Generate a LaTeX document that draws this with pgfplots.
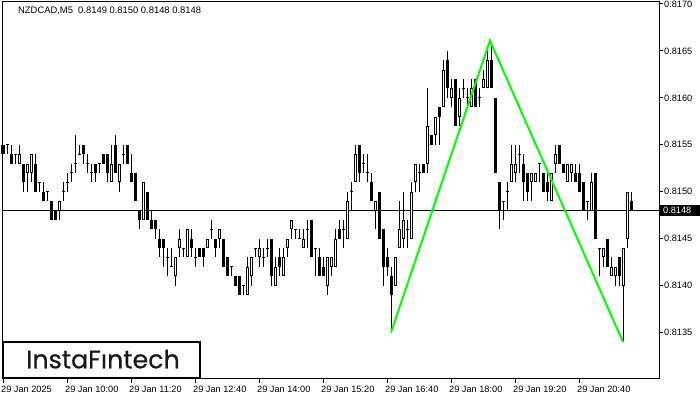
\documentclass[border=0pt]{standalone}
\usepackage{fontspec}
\setmainfont{Liberation Sans}
\newfontfamily\logofont[FakeBold=0.5]{Poppins}
\usepackage{pgfplots}
\usepackage{pgfplotstable}
\pgfplotsset{compat=1.18}
\definecolor{patgreen}{RGB}{0,255,0}

\pgfplotstableread{
i o h l c
0 0.8155 0.8155 0.8154 0.8154
1 0.8155 0.8155 0.8154 0.8155
2 0.8154 0.8155 0.8153 0.8153
3 0.8154 0.8154 0.8153 0.8154
4 0.8153 0.8155 0.8153 0.8154
5 0.8153 0.8153 0.8150 0.8151
6 0.8152 0.8153 0.8150 0.8153
7 0.8152 0.8154 0.8151 0.8154
8 0.8153 0.8154 0.8150 0.8150
9 0.8151 0.8151 0.8150 0.8151
10 0.8150 0.8151 0.8149 0.8149
11 0.8150 0.8150 0.8149 0.8150
12 0.8149 0.8149 0.8147 0.8147
13 0.8148 0.8148 0.8147 0.8147
14 0.8148 0.8149 0.8147 0.8149
15 0.8150 0.8151 0.8149 0.8150
16 0.8151 0.8152 0.8150 0.8151
17 0.8152 0.8153 0.8151 0.8152
18 0.8153 0.8156 0.8152 0.8153
19 0.8154 0.8155 0.8154 0.8154
20 0.8155 0.8155 0.8153 0.8154
21 0.8153 0.8154 0.8152 0.8153
22 0.8152 0.8153 0.8151 0.8152
23 0.8153 0.8153 0.8151 0.8152
24 0.8153 0.8153 0.8152 0.8153
25 0.8154 0.8154 0.8153 0.8153
26 0.8154 0.8154 0.8151 0.8152
27 0.8151 0.8155 0.8151 0.8153
28 0.8155 0.8156 0.8152 0.8152
29 0.8151 0.8153 0.8150 0.8153
30 0.8154 0.8155 0.8153 0.8154
31 0.8155 0.8155 0.8153 0.8153
32 0.8152 0.8154 0.8151 0.8151
33 0.8152 0.8152 0.8149 0.8149
34 0.8148 0.8148 0.8146 0.8147
35 0.8147 0.8151 0.8147 0.8151
36 0.8150 0.8150 0.8147 0.8147
37 0.8147 0.8148 0.8146 0.8146
38 0.8147 0.8147 0.8145 0.8146
39 0.8145 0.8146 0.8143 0.8144
40 0.8145 0.8145 0.8142 0.8144
41 0.8143 0.8144 0.8141 0.8143
42 0.8142 0.8144 0.8142 0.8142
43 0.8141 0.8143 0.8140 0.8143
44 0.8144 0.8146 0.8143 0.8145
45 0.8144 0.8144 0.8143 0.8144
46 0.8143 0.8146 0.8143 0.8146
47 0.8145 0.8146 0.8143 0.8144
48 0.8143 0.8144 0.8142 0.8143
49 0.8144 0.8144 0.8143 0.8143
50 0.8144 0.8144 0.8142 0.8143
51 0.8144 0.8145 0.8144 0.8145
52 0.8146 0.8147 0.8145 0.8146
53 0.8145 0.8145 0.8143 0.8144
54 0.8145 0.8146 0.8144 0.8146
55 0.8145 0.8145 0.8142 0.8142
56 0.8143 0.8143 0.8141 0.8141
57 0.8142 0.8142 0.8141 0.8142
58 0.8141 0.8141 0.8140 0.8140
59 0.8141 0.8141 0.8139 0.8139
60 0.8140 0.8140 0.8139 0.8140
61 0.8139 0.8143 0.8139 0.8142
62 0.8141 0.8143 0.8140 0.8143
63 0.8144 0.8144 0.8143 0.8144
64 0.8143 0.8145 0.8142 0.8144
65 0.8143 0.8144 0.8142 0.8143
66 0.8144 0.8145 0.8143 0.8144
67 0.8145 0.8145 0.8140 0.8141
68 0.8140 0.8143 0.8140 0.8142
69 0.8143 0.8144 0.8141 0.8142
70 0.8141 0.8144 0.8141 0.8143
71 0.8144 0.8145 0.8143 0.8145
72 0.8146 0.8147 0.8145 0.8147
73 0.8146 0.8146 0.8145 0.8146
74 0.8145 0.8146 0.8145 0.8145
75 0.8144 0.8146 0.8144 0.8145
76 0.8146 0.8147 0.8144 0.8146
77 0.8147 0.8147 0.8143 0.8143
78 0.8144 0.8144 0.8141 0.8144
79 0.8143 0.8144 0.8141 0.8141
80 0.8142 0.8143 0.8141 0.8141
81 0.8140 0.8143 0.8139 0.8143
82 0.8142 0.8143 0.8141 0.8143
83 0.8142 0.8146 0.8142 0.8145
84 0.8146 0.8147 0.8145 0.8145
85 0.8146 0.8147 0.8144 0.8146
86 0.8145 0.8150 0.8145 0.8149
87 0.8150 0.8151 0.8148 0.8150
88 0.8151 0.8155 0.8151 0.8154
89 0.8155 0.8155 0.8151 0.8152
90 0.8153 0.8154 0.8152 0.8153
91 0.8152 0.8154 0.8151 0.8152
92 0.8151 0.8152 0.8149 0.8149
93 0.8148 0.8149 0.8146 0.8149
94 0.8150 0.8150 0.8145 0.8145
95 0.8146 0.8146 0.8140 0.8142
96 0.8143 0.8144 0.8141 0.8142
97 0.8141 0.8142 0.8135 0.8139
98 0.8140 0.8143 0.8140 0.8143
99 0.8144 0.8149 0.8144 0.8146
100 0.8145 0.8150 0.8144 0.8147
101 0.8146 0.8147 0.8144 0.8146
102 0.8145 0.8151 0.8145 0.8150
103 0.8151 0.8153 0.8150 0.8153
104 0.8152 0.8153 0.8150 0.8152
105 0.8153 0.8153 0.8152 0.8152
106 0.8153 0.8161 0.8152 0.8157
107 0.8156 0.8156 0.8155 0.8155
108 0.8156 0.8158 0.8155 0.8158
109 0.8159 0.8159 0.8155 0.8158
110 0.8159 0.8164 0.8159 0.8163
111 0.8164 0.8165 0.8160 0.8161
112 0.8160 0.8162 0.8159 0.8161
113 0.8162 0.8162 0.8157 0.8157
114 0.8158 0.8161 0.8157 0.8160
115 0.8161 0.8162 0.8160 0.8161
116 0.8160 0.8161 0.8159 0.8160
117 0.8159 0.8162 0.8159 0.8161
118 0.8162 0.8162 0.8159 0.8159
119 0.8160 0.8161 0.8159 0.8160
120 0.8161 0.8163 0.8161 0.8162
121 0.8161 0.8165 0.8161 0.8164
122 0.8164 0.8166 0.8161 0.8161
123 0.8160 0.8160 0.8152 0.8152
124 0.8151 0.8151 0.8146 0.8148
125 0.8149 0.8149 0.8147 0.8149
126 0.8150 0.8151 0.8148 0.8150
127 0.8151 0.8155 0.8151 0.8153
128 0.8152 0.8155 0.8151 0.8153
129 0.8154 0.8155 0.8152 0.8154
130 0.8153 0.8154 0.8149 0.8151
131 0.8152 0.8152 0.8149 0.8150
132 0.8151 0.8152 0.8149 0.8152
133 0.8151 0.8152 0.8151 0.8152
134 0.8153 0.8153 0.8151 0.8153
135 0.8152 0.8152 0.8150 0.8150
136 0.8151 0.8152 0.8149 0.8150
137 0.8149 0.8152 0.8149 0.8152
138 0.8153 0.8155 0.8152 0.8154
139 0.8155 0.8155 0.8153 0.8153
140 0.8153 0.8153 0.8152 0.8152
141 0.8151 0.8153 0.8151 0.8153
142 0.8152 0.8153 0.8151 0.8153
143 0.8152 0.8153 0.8151 0.8151
144 0.8152 0.8153 0.8150 0.8150
145 0.8151 0.8151 0.8148 0.8148
146 0.8149 0.8149 0.8147 0.8149
147 0.8148 0.8152 0.8148 0.8151
148 0.8152 0.8152 0.8145 0.8145
149 0.8144 0.8144 0.8141 0.8144
150 0.8143 0.8144 0.8142 0.8144
151 0.8145 0.8145 0.8142 0.8142
152 0.8141 0.8143 0.8141 0.8142
153 0.8141 0.8142 0.8140 0.8142
154 0.8143 0.8143 0.8140 0.8141
155 0.8140 0.8144 0.8134 0.8144
156 0.8145 0.8150 0.8144 0.8150
157 0.8149 0.8150 0.8148 0.8148
}\candles

\begin{document}
\begin{tikzpicture}
\begin{axis}[
  at={(0,0)}, anchor=south west,
  width=657bp, height=377bp, scale only axis,
  xmin=-0.25, xmax=164, ymin=0.813006, ymax=0.817021,
  axis line style={line width=1bp, black},
  tick align=outside,
  xtick pos=left, ytick pos=right, yticklabel pos=right,
  major tick length=4bp,
  tick style={line width=1bp, black},
  xtick={0,16,32,48,64,80,96,112,128,144},
  xticklabels={29 Jan 2025, 29 Jan 10:00, 29 Jan 11:20, 29 Jan 12:40, 29 Jan 14:00, 29 Jan 15:20, 29 Jan 16:40, 29 Jan 18:00, 29 Jan 19:20, 29 Jan 20:40},
  ytick={0.8135,0.8140,0.8145,0.8150,0.8155,0.8160,0.8165,0.8170},
  yticklabels={0.8135,0.8140,0.8145,0.8150,0.8155,0.8160,0.8165,0.8170},
  /pgf/number format/assume math mode=true,
  ticklabel style={font=\fontsize{9.2bp}{10bp}\selectfont, inner sep=0pt},
  xticklabel style={anchor=north west, xshift=-2bp, yshift=-3bp},
  yticklabel style={anchor=west, xshift=1bp},
  clip=false,
  candle/.style={mark=none, forget plot},
]
% bid line
\addplot[black, line width=1bp, forget plot] coordinates {(-0.25,0.8148) (164,0.8148)};
% wicks
\addplot[candle, black, line width=1bp,
  quiver={u=0, v=\thisrow{h}-\thisrow{l}}]
  table[x=i, y=l] {\candles};
% bodies
\addplot[candle, black, line width=3bp,
  quiver={u=0, v={max(abs(\thisrow{o}-\thisrow{c}),0.0000106)}}]
  table[x=i, y expr={min(\thisrow{o},\thisrow{c})-max(0,0.0000053-abs(\thisrow{o}-\thisrow{c})/2)}] {\candles};
% hollow interior of rising bars
\addplot[candle, white, line width=1bp,
  restrict expr to domain={\thisrow{c}-\thisrow{o}}{0.00005:1},
  quiver={u=0, v=\thisrow{c}-\thisrow{o}-0.0000212}]
  table[x=i, y expr={\thisrow{o}+0.0000106}] {\candles};
% pattern
\addplot[patgreen, line width=2bp, forget plot] coordinates {(97,0.8135) (121.75,0.81661) (155,0.8134)};
\end{axis}
% title
\node[anchor=west, inner sep=0pt, font=\fontsize{9.4bp}{10bp}\selectfont] at (16bp,368bp) {NZDCAD,M5\ \ 0.8149 0.8150 0.8148 0.8148};
% price tag
\fill[black] (658bp,163bp) rectangle (698bp,174bp);
\node[anchor=west, inner sep=0pt, text=white, font=\fontsize{9.2bp}{10bp}\selectfont] at (661bp,168.5bp) {0.8148};
% logo
\draw[line width=2bp, black, fill=white] (1bp,1bp) rectangle (198bp,37bp);
\node[anchor=base, inner sep=0pt, text=black!90, font=\logofont\fontsize{25.3bp}{26bp}\selectfont] at (101bp,10.7bp) {InstaFıntech};
\pgfresetboundingbox
\path[use as bounding box] (-2bp,-21bp) rectangle (698bp,379bp);
\end{tikzpicture}
\end{document}
